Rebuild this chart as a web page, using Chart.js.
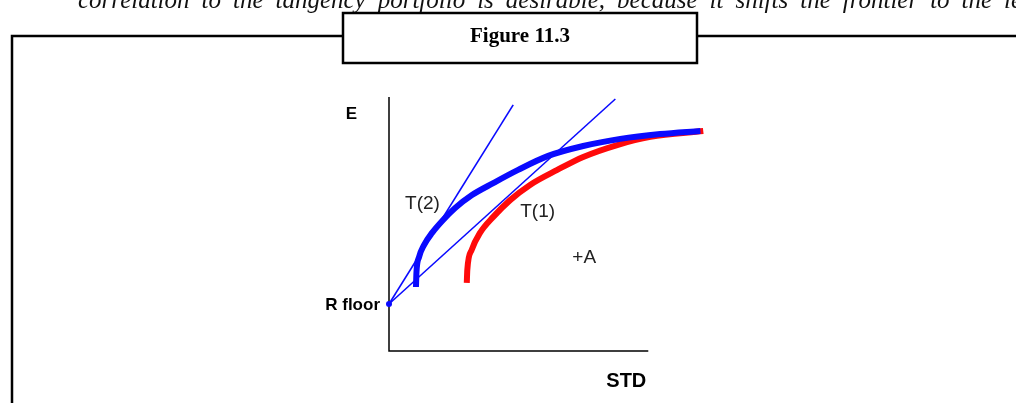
<!DOCTYPE html>
<html>
<head>
<meta charset="utf-8">
<title>Figure 11.3</title>
<script src="https://cdn.jsdelivr.net/npm/chart.js@4/dist/chart.umd.min.js"></script>
<style>
    html, body { margin: 0; padding: 0; background: #fff; }
    #wrap { width: 1016px; height: 403px; position: relative; }
</style>
</head>
<body>
<div id="wrap"><canvas id="frontier"></canvas></div>
<script>
/* Efficient frontiers with riskless floor and tangent lines */

// risk-free floor on the E axis
const rFloor = 1.85;

// frontier with the extra asset A (blue)
const stdWithA = [1.04, 1.06, 1.16, 1.35, 1.66, 2.05, 2.55, 3.20, 4.02, 4.98, 6.14, 7.49, 8.92, 10.46, 12.01];
const eWithA   = [2.52, 3.11, 3.70, 4.17, 4.65, 5.12, 5.63, 6.14, 6.61, 7.13, 7.68, 8.07, 8.35, 8.54, 8.66];

// original frontier (red)
const stdBase = [3.00, 3.02, 3.19, 3.51, 4.02, 4.67, 5.44, 6.49, 7.49, 8.80, 10.08, 12.12];
const eBase   = [2.68, 3.19, 3.98, 4.65, 5.28, 5.94, 6.54, 7.13, 7.64, 8.11, 8.43, 8.66];

// tangent lines from R floor: end points [std, E]
const tangent2 = [4.79, 9.69];
const tangent1 = [8.73, 9.92];

// axis lengths
const axisStd = 10;
const axisE = 10;

// text labels
const axisLabels = ['E', 'STD', 'R floor'];
const curveLabels = ['T(2)', 'T(1)', '+A'];
const curveLabelPos = [[0.62, 5.79], [5.06, 5.47], [7.07, 3.66]];

const figureTitle = 'Figure 11.3';
const leadText = 'correlation to the tangency portfolio is desirable, because it shifts the frontier to the left';

const BLUE = '#0a0aff';
const RED = '#ff0a0a';

function toPoints(xs, ys) {
    return xs.map((x, i) => ({ x: x, y: ys[i] }));
}

// page furniture: frame, title box, running text
const framePlugin = {
    id: 'framePlugin',
    beforeDraw(chart) {
        const ctx = chart.ctx;
        ctx.save();
        ctx.fillStyle = '#fff';
        ctx.fillRect(0, 0, chart.width, chart.height);

        // justified text line, clipped at the top of the page
        ctx.fillStyle = '#111';
        ctx.font = 'italic 25px "Liberation Serif", serif';
        ctx.textBaseline = 'alphabetic';
        const words = leadText.split(' ');
        const widths = words.map(w => ctx.measureText(w).width);
        const total = widths.reduce((a, b) => a + b, 0);
        const gap = Math.max(6, (958 - total) / (words.length - 1));
        let x = 78;
        words.forEach((w, i) => {
            ctx.fillText(w, x, 8);
            x += widths[i] + gap;
        });

        // frame
        ctx.strokeStyle = '#000';
        ctx.lineWidth = 2.5;
        ctx.beginPath();
        ctx.moveTo(12, 403);
        ctx.lineTo(12, 36);
        ctx.lineTo(1016, 36);
        ctx.stroke();

        // title box
        ctx.fillStyle = '#fff';
        ctx.fillRect(343, 13, 354, 50);
        ctx.strokeRect(343, 13, 354, 50);
        ctx.fillStyle = '#000';
        ctx.font = 'bold 21px "Liberation Serif", serif';
        ctx.textAlign = 'center';
        ctx.textBaseline = 'middle';
        ctx.fillText(figureTitle, 520, 37);
        ctx.restore();
    },
    beforeDatasetsDraw(chart) {
        const ctx = chart.ctx;
        const xs = chart.scales.x, ys = chart.scales.y;
        const x0 = xs.getPixelForValue(0), y0 = ys.getPixelForValue(0);
        ctx.save();
        ctx.strokeStyle = '#000';
        ctx.lineWidth = 1.5;
        ctx.beginPath();
        ctx.moveTo(x0, ys.getPixelForValue(axisE));
        ctx.lineTo(x0, y0);
        ctx.lineTo(xs.getPixelForValue(axisStd), y0);
        ctx.stroke();

        ctx.fillStyle = '#000';
        ctx.textBaseline = 'middle';
        ctx.textAlign = 'right';
        ctx.font = 'bold 17px "Liberation Sans", sans-serif';
        ctx.fillText(axisLabels[0], x0 - 32, ys.getPixelForValue(axisE) + 17);
        ctx.font = 'bold 20px "Liberation Sans", sans-serif';
        ctx.fillText(axisLabels[1], xs.getPixelForValue(axisStd) - 2, y0 + 30);
        ctx.font = 'bold 17px "Liberation Sans", sans-serif';
        ctx.fillText(axisLabels[2], x0 - 9, ys.getPixelForValue(rFloor) + 1);

        ctx.fillStyle = '#222';
        ctx.textAlign = 'left';
        ctx.font = '19px "Liberation Sans", sans-serif';
        curveLabels.forEach((t, i) => {
            const p = curveLabelPos[i];
            ctx.fillText(t, xs.getPixelForValue(p[0]), ys.getPixelForValue(p[1]));
        });
        ctx.restore();
    }
};

document.addEventListener('DOMContentLoaded', () => {
    const ctx = document.getElementById('frontier');
    new Chart(ctx, {
        type: 'scatter',
        data: {
            datasets: [
                {
                    label: 'T(2)',
                    data: [{ x: 0, y: rFloor }, { x: tangent2[0], y: tangent2[1] }],
                    showLine: true,
                    borderColor: BLUE,
                    borderWidth: 1.6,
                    pointRadius: 0
                },
                {
                    label: 'T(1)',
                    data: [{ x: 0, y: rFloor }, { x: tangent1[0], y: tangent1[1] }],
                    showLine: true,
                    borderColor: BLUE,
                    borderWidth: 1.6,
                    pointRadius: [3, 0],
                    pointBackgroundColor: BLUE,
                    pointBorderWidth: 0
                },
                {
                    label: 'With A',
                    data: toPoints(stdWithA, eWithA),
                    showLine: true,
                    borderColor: BLUE,
                    borderWidth: 6,
                    cubicInterpolationMode: 'monotone',
                    pointRadius: 0
                },
                {
                    label: 'Base',
                    data: toPoints(stdBase, eBase),
                    showLine: true,
                    borderColor: RED,
                    borderWidth: 6,
                    cubicInterpolationMode: 'monotone',
                    pointRadius: 0
                }
            ]
        },
        options: {
            responsive: true,
            maintainAspectRatio: false,
            animation: false,
            clip: false,
            layout: {
                padding: { left: 389, right: 264, top: 97, bottom: 52 }
            },
            scales: {
                x: { type: 'linear', min: 0, max: 14, display: false },
                y: { type: 'linear', min: 0, max: 10, display: false }
            },
            plugins: {
                legend: { display: false },
                tooltip: { enabled: false }
            }
        },
        plugins: [framePlugin]
    });
});
</script>
</body>
</html>
